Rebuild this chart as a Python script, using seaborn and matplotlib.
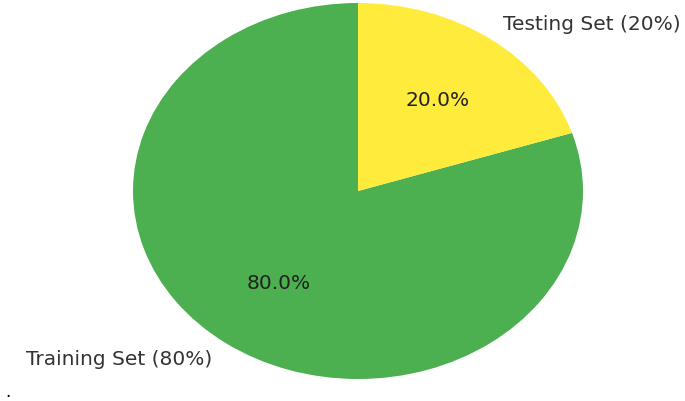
import matplotlib
matplotlib.use("Agg")
import matplotlib.pyplot as plt
import seaborn as sns

# data
labels = ["Training Set (80%)", "Testing Set (20%)"]
sizes = [80, 20]
colors = ["#4CAF50", "#FFEB3B"]

sns.set_theme(style="white")
plt.rcParams["font.family"] = ["DejaVu Sans"]

fig = plt.figure(figsize=(6.85, 4.02), dpi=100)
# pie stretched to an ellipse: 450 px wide, 376 px tall
ax = fig.add_axes([133 / 685, 22 / 402, 450 / 685, 376 / 402])
wedges, texts, autotexts = ax.pie(
    sizes,
    labels=labels,
    colors=sns.color_palette(colors),
    autopct="%1.1f%%",
    startangle=90,
    wedgeprops={"linewidth": 0},
    textprops={"fontsize": 14.5},
)
for t in texts:
    t.set_color("#333333")
    t.set_clip_on(False)
for t in autotexts:
    t.set_color("#222222")
ax.set_aspect("auto")
ax.set_xlim(-1, 1)
ax.set_ylim(-1, 1)
ax.axis("off")

fig.text(5 / 685, 1 - 397 / 402, ".", fontsize=12, color="black")

fig.savefig("out.png", dpi=100)
